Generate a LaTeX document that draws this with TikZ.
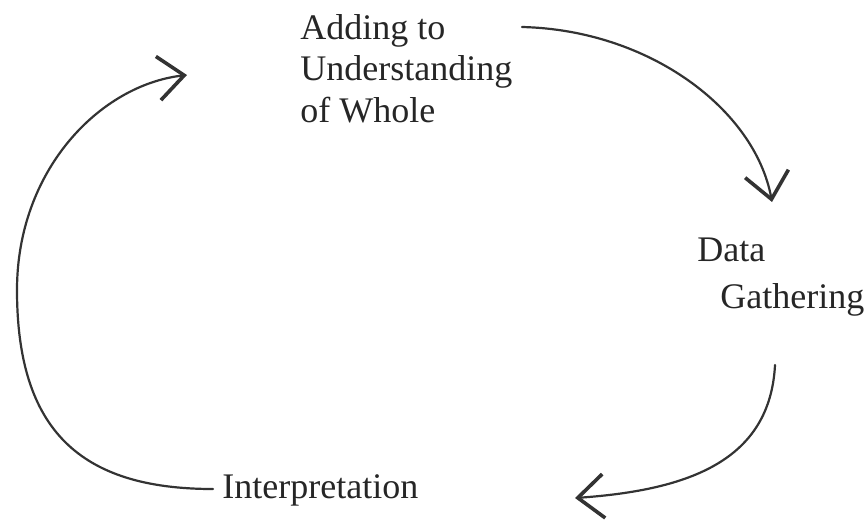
\documentclass[tikz,border=0pt]{standalone}
\usepackage{fontspec}
\setmainfont{Liberation Serif}
\usetikzlibrary{arrows.meta}

\begin{document}
\begin{tikzpicture}[x=0.5pt,y=-0.5pt,
		label/.style={inner sep=0pt, text=black!85, font=\fontsize{18}{20.8}\selectfont},
		cycle/.style={draw=black!80, line width=1.1pt, line cap=round,
			-{Straight Barb[length=13pt,width=22pt,line width=1.8pt]}}]
		\useasboundingbox (0,0) rectangle (865,520);

		\node[label, anchor=north west, align=left] (adding) at (300,14) {Adding to\\Understanding\\of Whole};
		\node[label, anchor=base west] (data) at (697,261) {Data};
		\node[label, anchor=base west] (gathering) at (720,308) {Gathering};
		\node[label, anchor=base west] (interp) at (222,498) {Interpretation};

		\coordinate (topstart) at (522,27);
		\coordinate (toptip) at (772,202);
		\coordinate (rightstart) at (775,365);
		\coordinate (righttip) at (575,498);
		\coordinate (leftstart) at (213,489);
		\coordinate (leftmid) at (17,290);
		\coordinate (lefttip) at (187,75);

		\draw[cycle] (topstart) .. controls (650,30) and (755,110) .. (toptip);
		\draw[cycle] (rightstart) .. controls (770,460) and (690,490) .. (righttip);
		\draw[cycle] (leftstart) .. controls (80,489) and (17,430) .. (leftmid)
			.. controls (17,170) and (100,85) .. (lefttip);

		\end{tikzpicture}
\end{document}
